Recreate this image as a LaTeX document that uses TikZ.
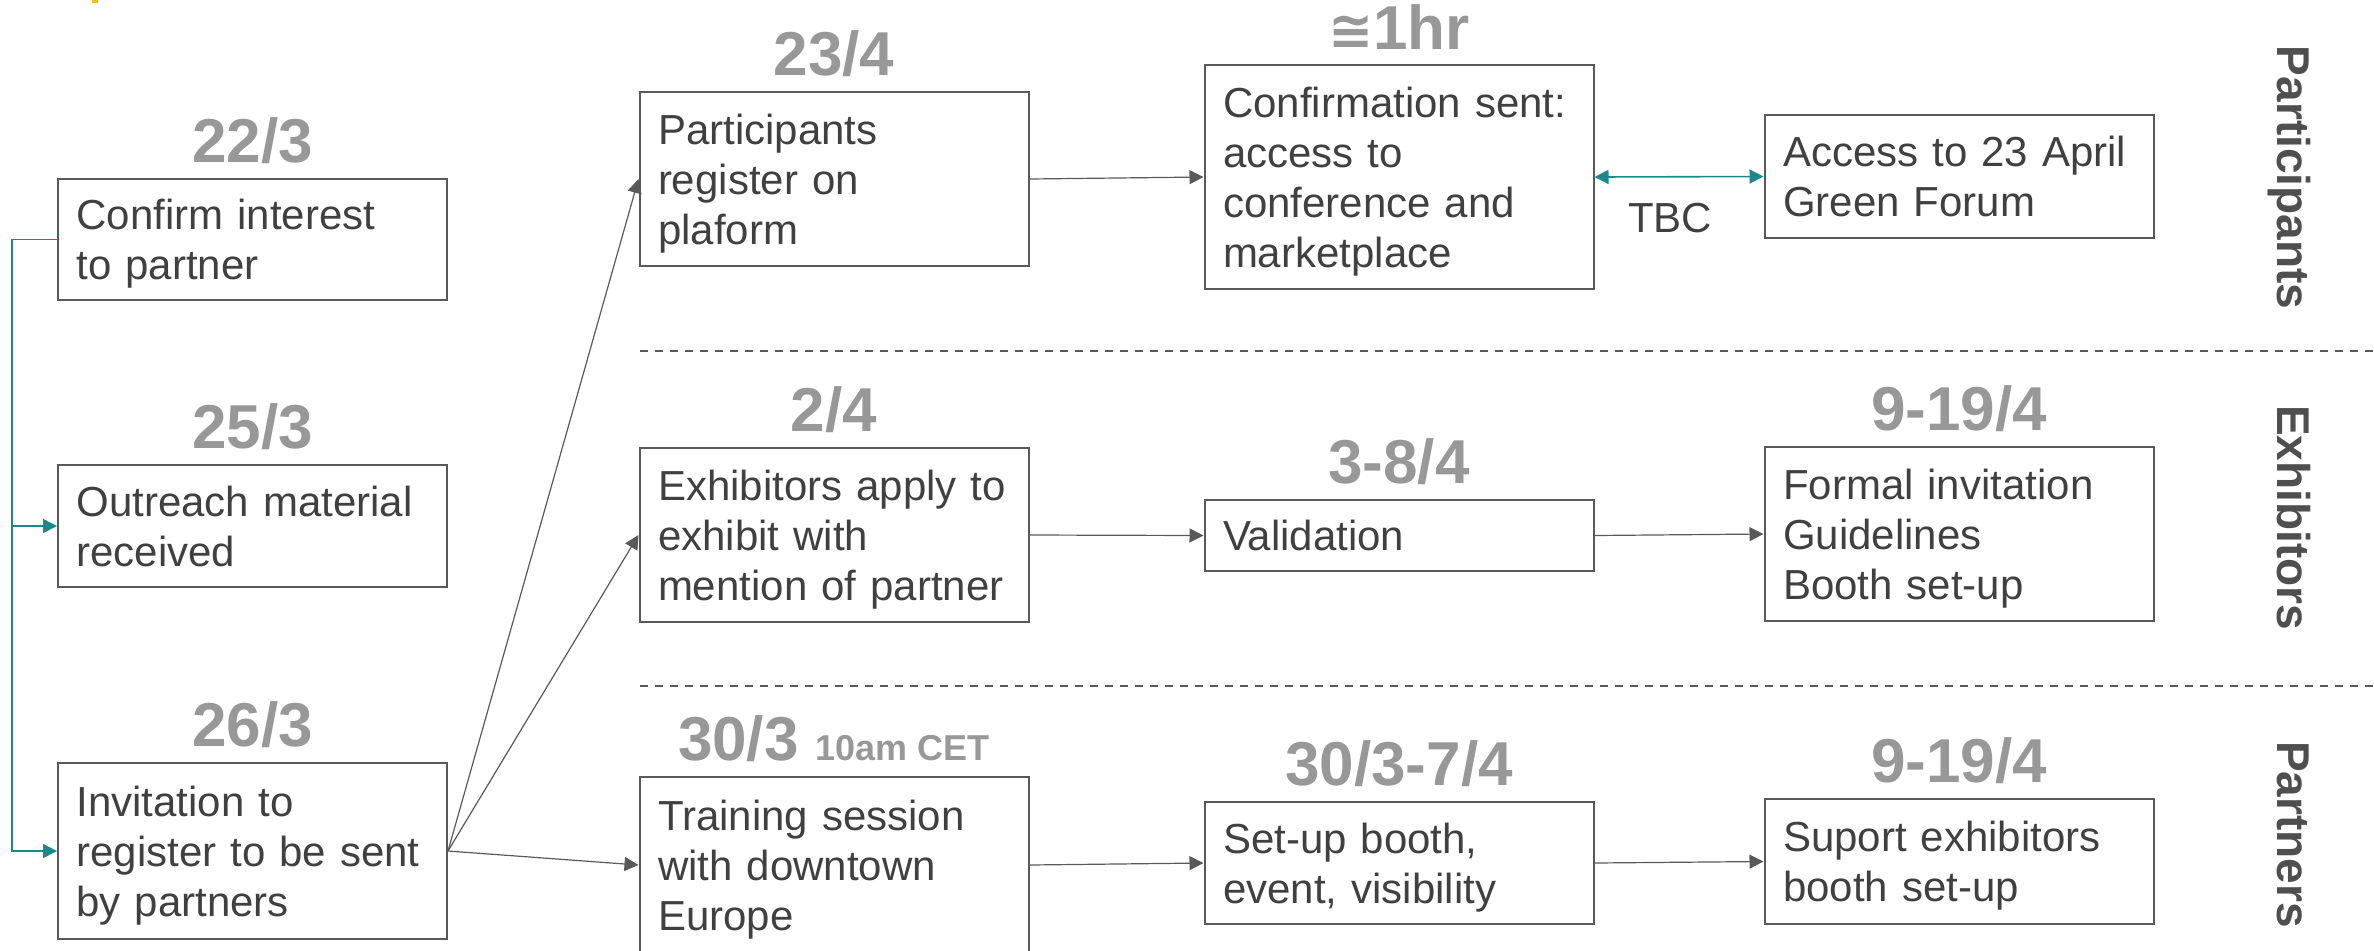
\documentclass[tikz,border=0pt]{standalone}
\usepackage{fontspec}
\setmainfont{Liberation Sans}
\newfontfamily\symbolfont{DejaVu Sans}
\usetikzlibrary{positioning}
\usetikzlibrary{arrows.meta}
\definecolor{boxgray}{HTML}{595959}
\definecolor{textgray}{HTML}{404040}
\definecolor{dategray}{HTML}{989898}
\definecolor{sidegray}{HTML}{4F4F4F}
\definecolor{linkteal}{HTML}{1A8989}
\definecolor{markyellow}{HTML}{FFC000}
\tikzset{%
  stepbox/.style = {draw=boxgray,line width=1pt,text=textgray,
        font=\fontsize{21}{25}\selectfont,align=left,
        text width=176pt,inner xsep=9.25pt,inner ysep=0pt,
        execute at begin node={\rule{0pt}{21pt}},
        execute at end node={\rule[-6pt]{0pt}{6pt}}},
  datelabel/.style = {text=dategray,inner sep=0pt,
        font=\bfseries\fontsize{31}{31}\selectfont},
  lanelabel/.style = {text=sidegray,inner sep=0pt,rotate=-90,anchor=base,
        font=\bfseries\fontsize{23}{23}\selectfont},
  flowarrow/.style = {-{Triangle[length=7pt,width=7pt]},draw=boxgray,
        line width=0.6pt},
  linkarrow/.style = {-{Triangle[length=7pt,width=7pt]},draw=linkteal,
        line width=0.8pt},
  lanedivider/.style = {draw=boxgray,line width=1pt,
        dash pattern=on 4pt off 3.5pt}
}

\begin{document}
\begin{tikzpicture}[x=0.5pt,y=-0.5pt]
    \useasboundingbox (0,0) rectangle (2374,950);
    \fill[markyellow] (92,0) rectangle (98,3);
    % partner steps
    \node[stepbox,minimum height=60.5pt] (conf) at (252.5,239.5) {Confirm interest\\to partner};
    \node[stepbox,minimum height=61pt] (outr) at (252.5,526) {Outreach material\\received};
    \node[stepbox,minimum height=88pt] (invi) at (252.5,851) {Invitation to\\register to be sent\\by partners};
    % second column
    \node[stepbox,minimum height=87pt] (preg) at (834,179) {Participants\\register on\\plaform};
    \node[stepbox,minimum height=87pt] (exap) at (834,535) {Exhibitors apply to\\exhibit with\\mention of partner};
    \node[stepbox,minimum height=88pt] (trai) at (834,865) {Training session\\with downtown\\Europe};
    % third column
    \node[stepbox,minimum height=112pt] (csen) at (1399,177) {Confirmation sent:\\access to\\conference and\\marketplace};
    \node[stepbox,minimum height=35.5pt] (vali) at (1399,535.5) {Validation};
    \node[stepbox,minimum height=61pt] (setu) at (1399,863) {Set-up booth,\\event, visibility};
    % fourth column
    \node[stepbox,minimum height=61.5pt] (acce) at (1959,176.5) {Access to 23 April\\Green Forum};
    \node[stepbox,minimum height=87pt] (form) at (1959,534) {Formal invitation\\Guidelines\\Booth set-up};
    \node[stepbox,minimum height=62.5pt] (supo) at (1959,861.5) {Suport exhibitors\\booth set-up};
    % dates
    \node[datelabel,above=7pt of conf] (dconf) {22/3};
    \node[datelabel,above=7pt of outr] (doutr) {25/3};
    \node[datelabel,above=7pt of invi] (dinvi) {26/3};
    \node[datelabel,above=7pt of preg] (dpreg) {23/4};
    \node[datelabel,above=7pt of exap] (dexap) {2/4};
    \node[datelabel,above=7pt of trai] (dtrai) {30/3 {\fontsize{18}{18}\selectfont 10am CET}};
    \node[datelabel,above=7pt of csen] (dcsen) {{\symbolfont\fontsize{27}{27}\selectfont ≅}1hr};
    \node[datelabel,above=7pt of vali] (dvali) {3-8/4};
    \node[datelabel,above=7pt of setu] (dsetu) {30/3-7/4};
    \node[datelabel,above=7pt of form] (dform) {9-19/4};
    \node[datelabel,above=7pt of supo] (dsupo) {9-19/4};
    % lanes
    \draw[lanedivider] (640,351) -- (2374,351);
    \draw[lanedivider] (640,686) -- (2374,686);
    \node[lanelabel] (lpart) at (2277,177.5) {Participants};
    \node[lanelabel] (lexhi) at (2277,517.5) {Exhibitors};
    \node[lanelabel] (lpatn) at (2277,834.5) {Partners};
    % connectors
    \coordinate (rail) at (12,239.5);
    \draw[linkarrow] (conf.west) -- (rail) |- (invi.west);
    \draw[linkarrow] (rail) |- (outr.west);
    \draw[flowarrow] (invi.east) -- (preg.west);
    \draw[flowarrow] (invi.east) -- (exap.west);
    \draw[flowarrow] (invi.east) -- (trai.west);
    \draw[flowarrow] (preg.east) -- (csen.west);
    \draw[flowarrow] (exap.east) -- (vali.west);
    \draw[flowarrow] (vali.east) -- (form.west);
    \draw[flowarrow] (trai.east) -- (setu.west);
    \draw[flowarrow] (setu.east) -- (supo.west);
    \draw[linkarrow,{Triangle[length=7pt,width=7pt]}-{Triangle[length=7pt,width=7pt]}] (csen.east) -- (acce.west);
    \node[text=textgray,font=\fontsize{21}{25}\selectfont,inner sep=0pt] (tbc) at (1670,218) {TBC};
\end{tikzpicture}
\end{document}
